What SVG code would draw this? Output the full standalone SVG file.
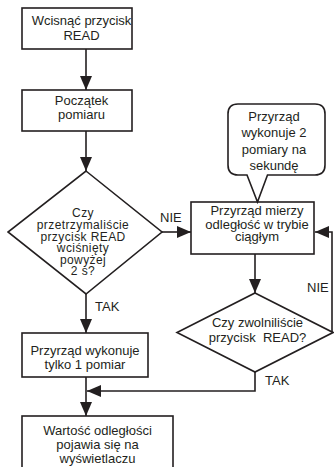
<svg xmlns="http://www.w3.org/2000/svg" width="334" height="467" viewBox="0 0 334 467">
<style>
.shape{fill:#fff;stroke:#231f20;stroke-width:1.6}
.line{fill:none;stroke:#231f20;stroke-width:1.6}
text{font-family:"Liberation Sans",Arial,sans-serif;font-size:13px;fill:#231f20;text-anchor:middle}
.lbl{text-anchor:start}
.tight{font-size:12px;letter-spacing:0.4px}
</style>
<defs>
<marker id="ah" markerUnits="userSpaceOnUse" markerWidth="14" markerHeight="12" refX="14" refY="6" orient="auto">
<path d="M0,0 L14,6 L0,12 Z" fill="#231f20"/>
</marker>
</defs>
<rect width="334" height="467" fill="#fff"/>
<g id="connectors">
<line class="line" x1="86" y1="49" x2="86" y2="90" marker-end="url(#ah)"/>
<line class="line" x1="86" y1="131" x2="86" y2="171" marker-end="url(#ah)"/>
<line class="line" x1="86" y1="294" x2="86" y2="333" marker-end="url(#ah)"/>
<line class="line" x1="86" y1="377" x2="86" y2="416" marker-end="url(#ah)"/>
<line class="line" x1="162" y1="232" x2="191" y2="232" marker-end="url(#ah)"/>
<line class="line" x1="255" y1="254" x2="255" y2="293" marker-end="url(#ah)"/>
<polyline class="line" points="332,332 332,232 315,232" marker-end="url(#ah)"/>
<polyline class="line" points="255,372 255,391 87,391" marker-end="url(#ah)"/>
<text class="lbl" x="160" y="222">NIE</text>
<text class="lbl" x="95" y="311">TAK</text>
<text class="lbl" x="307" y="291.5">NIE</text>
<text class="lbl" x="265" y="385">TAK</text>
</g>
<g id="start">
<rect class="shape" x="22" y="8" width="110" height="41"/>
<text x="81.5" y="25">Wcisnąć przycisk</text>
<text x="81.5" y="40">READ</text>
</g>
<g id="begin">
<rect class="shape" x="22" y="90" width="110" height="41"/>
<text x="81.5" y="105">Początek</text>
<text x="81.5" y="119">pomiaru</text>
</g>
<g id="decision1">
<polygon class="shape" points="86,171 162,232 86,294 8,232"/>
<text class="tight" x="83" y="216.5">Czy</text>
<text class="tight" x="83" y="228.5">przetrzymaliście</text>
<text class="tight" x="83" y="240.5">przycisk READ</text>
<text class="tight" x="83" y="252">wciśnięty</text>
<text class="tight" x="83" y="263.5">powyżej</text>
<text class="tight" x="83" y="275">2 s?</text>
</g>
<g id="continuous">
<rect class="shape" x="191" y="202" width="123" height="52"/>
<text x="257" y="215">Przyrząd mierzy</text>
<text x="257" y="228.5">odległość w trybie</text>
<text x="257" y="241">ciągłym</text>
</g>
<g id="callout">
<path class="shape" d="M238,104 H315 Q325,104 325,114 V165 Q325,175 315,175 H267.5 L257.5,202 L247,175 H238 Q228,175 228,165 V114 Q228,104 238,104 Z"/>
<text x="274" y="120.5">Przyrząd</text>
<text x="274" y="137">wykonuje 2</text>
<text x="274" y="153.5">pomiary na</text>
<text x="274" y="169.5">sekundę</text>
</g>
<g id="decision2">
<polygon class="shape" points="255,293 333,332.5 255,372 177,332.5"/>
<text x="257.5" y="327" xml:space="preserve">Czy zwolniliście</text>
<text x="257.5" y="342" xml:space="preserve">przycisk  READ?</text>
</g>
<g id="single">
<rect class="shape" x="22" y="333" width="126" height="44"/>
<text x="85" y="355">Przyrząd wykonuje</text>
<text x="85" y="369">tylko 1 pomiar</text>
</g>
<g id="result">
<rect class="shape" x="22" y="416" width="151" height="70"/>
<text x="97.5" y="435">Wartość odległości</text>
<text x="97.5" y="449">pojawia się na</text>
<text x="97.5" y="462.5">wyświetlaczu</text>
</g>
</svg>
